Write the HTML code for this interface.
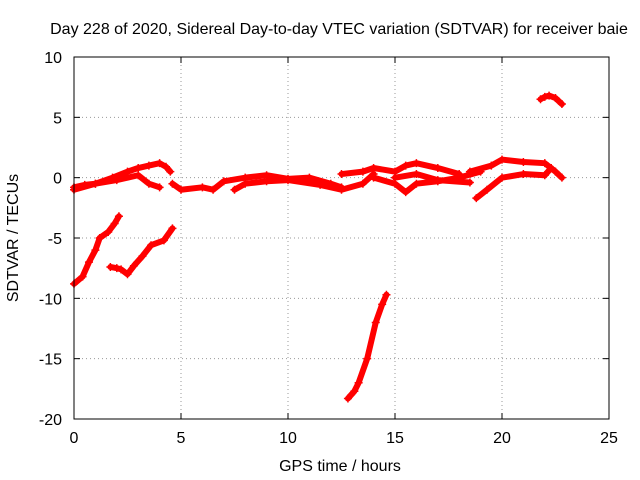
<!DOCTYPE html>
<html><head><meta charset="utf-8"><style>
body{margin:0;background:#fff}
svg{display:block;font-family:"Liberation Sans",sans-serif}
</style></head><body>
<svg id="chart" width="640" height="480">
<rect width="640" height="480" fill="#fff"/>
<text x="339" y="34" text-anchor="middle" font-size="16">Day 228 of 2020, Sidereal Day-to-day VTEC variation (SDTVAR) for receiver baie</text>
<text x="340" y="471" text-anchor="middle" font-size="16">GPS time / hours</text>
<text transform="translate(18,238) rotate(-90)" text-anchor="middle" font-size="16">SDTVAR / TECUs</text>
<g id="grid"></g><g id="ticks"></g><g id="marks"></g>
<rect x="74" y="57" width="535" height="362" fill="none" stroke="#000"/>
</svg>
<script>
const xTicks=[0,5,10,15,20,25];
const yTicks=[10,5,0,-5,-10,-15,-20];
const trackX=[
[0,0.4,0.7,1.0,1.2,1.6,1.9,2.1],
[1.7,2.0,2.2,2.5,2.8,3.2,3.6,4.2,4.6],
[12.8,13.1,13.3,13.7,14.1,14.4,14.6],
[21.8,22.0,22.2,22.5,22.8],
[0,0.5,1,1.8,2.5,3,3.5,4,4.3,4.5],
[0,1,2,3,3.5,4],
[4.6,5,6,6.5,7,8,9,10,11,12,12.5],
[7.5,8,9,10,11.5,12.5,13.5,14],
[12.5,13.5,14,15,15.5,16,17,18],
[14,15,15.5,16,17,18,19],
[15,16,17,18.5],
[18.5,19.5,20,21,22,22.5,22.8],
[18.8,19.3,20,21,22,22.3]
];
const trackY=[
[-8.8,-8.2,-7,-6,-5,-4.5,-3.8,-3.2],
[-7.4,-7.5,-7.6,-8,-7.3,-6.5,-5.6,-5.2,-4.2],
[-18.3,-17.7,-17,-15,-12,-10.5,-9.7],
[6.5,6.7,6.8,6.6,6.1],
[-0.8,-0.6,-0.5,0,0.5,0.8,1,1.2,0.9,0.5],
[-1,-0.5,-0.2,0.2,-0.5,-0.8],
[-0.5,-1,-0.8,-1,-0.3,0,0.2,-0.1,0,-0.5,-0.8],
[-1,-0.5,-0.3,-0.2,-0.6,-1,-0.5,0.3],
[0.3,0.5,0.8,0.5,1,1.2,0.8,0.3],
[0,-0.5,-1.2,-0.5,-0.3,0,0.5],
[0,0.3,-0.2,-0.4],
[0.5,1,1.5,1.3,1.2,0.5,0],
[-1.7,-1,0,0.3,0.2,0.8]
];
const NS='http://www.w3.org/2000/svg';
const X=v=>74+v*535/25, Y=v=>57+(10-v)*362/30;
function mk(t,a,p){const e=document.createElementNS(NS,t);for(const k in a)e.setAttribute(k,a[k]);p.appendChild(e);return e;}
const grid=document.getElementById('grid'),ticks=document.getElementById('ticks'),marks=document.getElementById('marks');
xTicks.forEach(t=>{
 const x=X(t);
 if(t>0&&t<25){const g=mk('line',{x1:x,x2:x,y1:57,y2:419,stroke:'#999','stroke-dasharray':'1,3'},grid);
 
 }
 mk('line',{x1:x,x2:x,y1:419,y2:413,stroke:'#000'},ticks);
 mk('line',{x1:x,x2:x,y1:57,y2:63,stroke:'#000'},ticks);
 const l=mk('text',{x:x,y:443,'text-anchor':'middle','font-size':16},ticks);l.textContent=t;
 
 
});
yTicks.forEach(t=>{
 const y=Y(t);
 if(t<10&&t>-20){const g=mk('line',{x1:74,x2:609,y1:y,y2:y,stroke:'#999','stroke-dasharray':'1,3'},grid);
 
 }
 mk('line',{x1:74,x2:80,y1:y,y2:y,stroke:'#000'},ticks);
 mk('line',{x1:603,x2:609,y1:y,y2:y,stroke:'#000'},ticks);
 const l=mk('text',{x:62,y:y+6,'text-anchor':'end','font-size':16},ticks);l.textContent=t;
 
 
});
trackX.forEach((xs,i)=>{
 const ys=trackY[i];
 const pts=xs.map((x,j)=>X(x)+','+Y(ys[j])).join(' ');
 const pl=mk('polyline',{points:pts,fill:'none',stroke:'#f00','stroke-width':6,'stroke-linejoin':'round','stroke-linecap':'round'},marks);
 
 
 xs.forEach((x,j)=>{
  const cx=X(x),cy=Y(ys[j]);
  const p=mk('path',{d:`M${cx-4},${cy}h8M${cx},${cy-4}v8`,stroke:'#f00','stroke-width':1.5},marks);
  
  
 });
});
</script>
</body></html>
